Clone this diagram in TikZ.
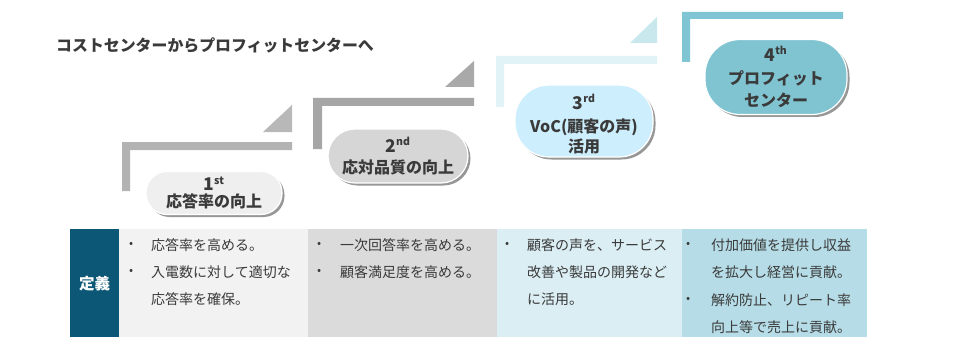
\documentclass[tikz,border=0pt]{standalone}
\usepackage{fontspec}
\setmainfont{Noto Sans CJK JP}
\usetikzlibrary{shadows}
\definecolor{txt}{HTML}{3A3A3A}
\definecolor{brA}{HTML}{B3B3B3}
\definecolor{brB}{HTML}{A6A6A6}
\definecolor{brC}{HTML}{E2F3F8}
\definecolor{brD}{HTML}{7FC5D3}
\definecolor{trA}{HTML}{B8B8B8}
\definecolor{trB}{HTML}{A9A9A9}
\definecolor{trC}{HTML}{C9E8EE}
\definecolor{plA}{HTML}{EFEFEF}
\definecolor{plB}{HTML}{D6D6D6}
\definecolor{plC}{HTML}{CDEEFC}
\definecolor{plD}{HTML}{80C4D2}
\definecolor{cA}{HTML}{F2F2F2}
\definecolor{cB}{HTML}{DBDBDB}
\definecolor{cC}{HTML}{DBEEF4}
\definecolor{cD}{HTML}{B6DDE7}
\definecolor{defc}{HTML}{0B5775}
\tikzset{
  pill/.style={rounded corners=#1, draw=white, line width=1.2pt, inner sep=0pt,
    align=center, text=txt, font=\bfseries\fontsize{16}{22}\selectfont,
    drop shadow={shadow xshift=2.5pt, shadow yshift=-2.5pt, fill=black!45, opacity=0.9}},
  cell/.style={anchor=north west, inner sep=0pt, draw=none},
  bul/.style={anchor=west, inner sep=0pt, text=txt, font=\fontsize{12}{16}\selectfont},
  item/.style={anchor=west, inner sep=0pt, text=txt, font=\fontsize{14}{16}\selectfont},
  ptext/.style={inner sep=0pt, align=center, text=txt, font=\bfseries\fontsize{16}{22}\selectfont},
}
\newcommand{\ordnum}[2]{{\fontsize{17.5}{18}\selectfont #1}\textsuperscript{\fontsize{10.5}{10}\selectfont #2}}
\begin{document}
\begin{tikzpicture}[x=1pt,y=-1pt]
\useasboundingbox[fill=white] (0,0) rectangle (960,350);

% title
\node[anchor=west, inner sep=0pt, text=txt, font=\bfseries\fontsize{15.9}{18}\selectfont] (title) at (56,45) {コストセンターからプロフィットセンターへ};

% brackets and triangles
\fill[brA] (122,191) -- (122,142) -- (292,142) -- (292,150) -- (130,150) -- (130,191) -- cycle;
\fill[trA] (263,132) -- (292,105) -- (292,132) -- cycle;
\fill[brB] (313,149) -- (313,98) -- (474,98) -- (474,106) -- (322,106) -- (322,149) -- cycle;
\fill[trB] (445,87) -- (474,61) -- (474,87) -- cycle;
\fill[brC] (496,107) -- (496,56) -- (657,56) -- (657,64) -- (504,64) -- (504,107) -- cycle;
\fill[trC] (630,43) -- (657,17) -- (657,43) -- cycle;
\fill[brD] (682,62) -- (682,12) -- (843,12) -- (843,19) -- (690,19) -- (690,62) -- cycle;

% pills
\node[pill=21pt, fill=plA, minimum width=136pt, minimum height=43pt] (p1) at (214,193) {\ordnum{1}{st}\\[-5pt]応答率の向上};
\node[pill=27pt, fill=plB, minimum width=140pt, minimum height=54pt] (p2) at (398,156) {\ordnum{2}{nd}\\[-1pt]応対品質の向上};
\node[pill=34pt, fill=plC, minimum width=138pt, minimum height=72pt] (p3) at (584,121) {};
\node[ptext] (p3t) at (584,124) {\ordnum{3}{rd}\\[1pt]VoC(顧客の声)\\[-2pt]活用};
\node[pill=35pt, fill=plD, minimum width=142pt, minimum height=75pt] (p4) at (776,77) {\ordnum{4}{th}\\[1pt]プロフィット\\[0pt]センター};

% table
\node[cell, fill=defc, minimum width=49pt, minimum height=108pt] (def) at (70,229) {};
\node[text=white, font=\bfseries\fontsize{15.5}{18}\selectfont, inner sep=0pt] (deft) at (def.center) {定義};
\node[cell, fill=cA, minimum width=189pt, minimum height=108pt] (c1) at (119,229) {};
\node[cell, fill=cB, minimum width=189pt, minimum height=108pt] (c2) at (308,229) {};
\node[cell, fill=cC, minimum width=185pt, minimum height=108pt] (c3) at (497,229) {};
\node[cell, fill=cD, minimum width=185pt, minimum height=108pt] (c4) at (682,229) {};

% column 1
\node[bul] (b11) at (129,245) {•};
\node[item] (t11) at (151,245) {応答率を高める。};
\node[bul] (b12) at (129,272) {•};
\node[item] (t12) at (151,272) {入電数に対して適切な};
\node[item] (t13) at (151,299) {応答率を確保。};
% column 2
\node[bul] (b21) at (317,245) {•};
\node[item] (t21) at (340,245) {一次回答率を高める。};
\node[bul] (b22) at (317,272) {•};
\node[item] (t22) at (340,272) {顧客満足度を高める。};
% column 3
\node[bul] (b31) at (505,245) {•};
\node[item] (t31) at (527,245) {顧客の声を、サービス};
\node[item] (t32) at (527,272) {改善や製品の開発など};
\node[item] (t33) at (527,299) {に活用。};
% column 4
\node[bul] (b41) at (686,245) {•};
\node[item] (t41) at (711,245) {付加価値を提供し収益};
\node[item] (t42) at (711,272) {を拡大し経営に貢献。};
\node[bul] (b43) at (686,300) {•};
\node[item] (t43) at (711,300) {解約防止、リピート率};
\node[item] (t44) at (711,327) {向上等で売上に貢献。};
\end{tikzpicture}
\end{document}
